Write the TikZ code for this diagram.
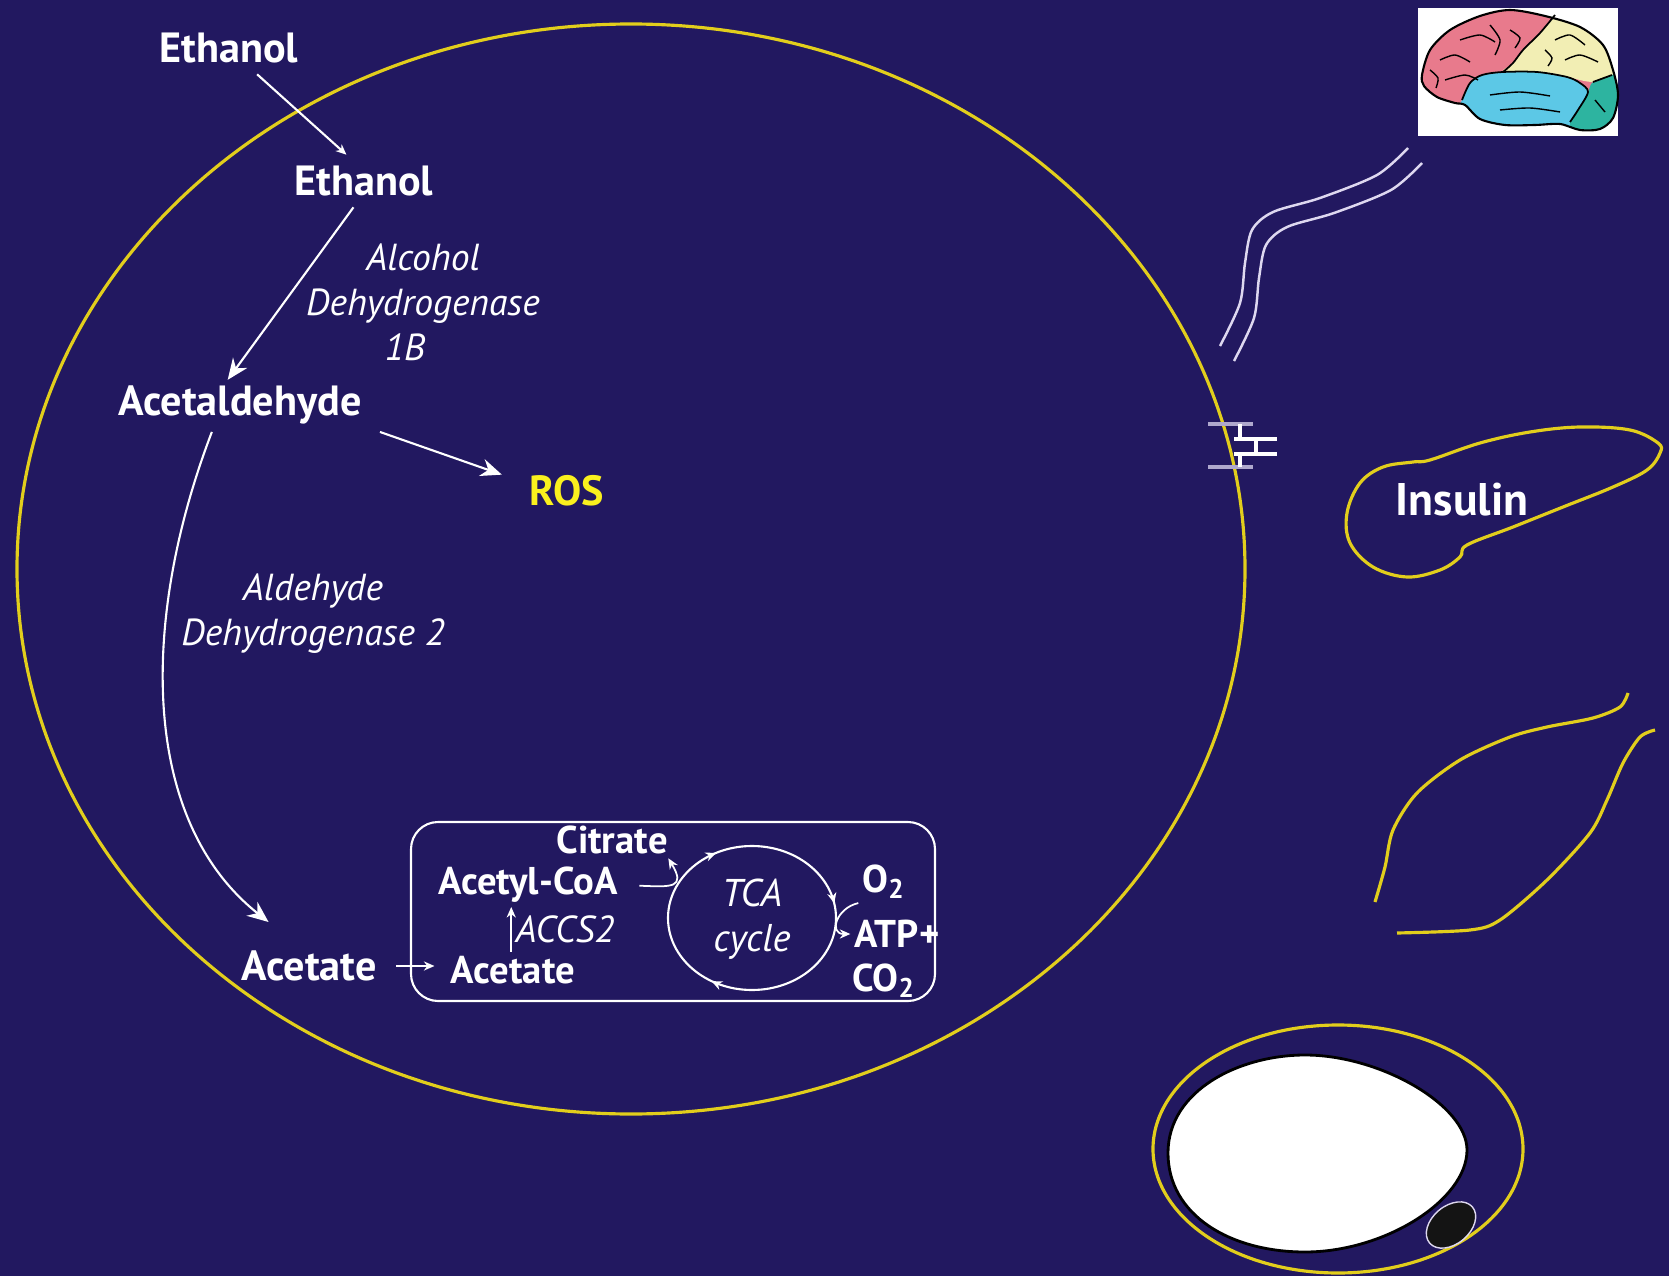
\documentclass[tikz,border=0pt]{standalone}
\usepackage{fontspec}
\setmainfont{PT Sans}
\usetikzlibrary{arrows.meta,decorations.markings}

\definecolor{navy}{RGB}{34,24,96}
\definecolor{membrane}{RGB}{226,206,28}
\definecolor{rosyellow}{RGB}{250,240,30}
\definecolor{nerve}{RGB}{222,216,240}
\definecolor{gatelight}{RGB}{175,168,205}
\definecolor{frontal}{RGB}{232,122,140}
\definecolor{parietal}{RGB}{242,238,180}
\definecolor{temporal}{RGB}{92,200,230}
\definecolor{occipital}{RGB}{45,180,160}

\tikzset{
  mol/.style={text=white, font=\bfseries\fontsize{12}{14}\selectfont, inner sep=3pt},
  small mol/.style={text=white, font=\bfseries\fontsize{11}{13}\selectfont, inner sep=1pt},
  enzyme/.style={text=white, font=\itshape\fontsize{10.7}{12.8}\selectfont, align=center, inner sep=1pt},
  flow/.style={white, line width=0.6pt, -{Stealth[length=6pt,width=5pt]}},
  thin flow/.style={white, line width=0.5pt, -{Stealth[length=3pt,width=2.6pt]}},
  organ/.style={membrane, line width=0.9pt},
  cycle marks/.style={postaction={decorate, decoration={markings,
    mark=at position 0.335 with {\arrow{Stealth[length=3pt,width=2.6pt]}},
    mark=at position 0.675 with {\arrow{Stealth[length=3pt,width=2.6pt]}},
    mark=at position 0.97 with {\arrow{Stealth[length=3pt,width=2.6pt]}}}}},
}

\begin{document}
\begin{tikzpicture}[x=0.01cm,y=-0.01cm]
\fill[navy] (0,0) rectangle (1669,1276);
\useasboundingbox (0,0) rectangle (1669,1276);

% the cell
\draw[organ] (631,569) ellipse [x radius=614, y radius=545];

\node[mol] (eth out) at (229,48) {Ethanol};
\node[mol] (eth in) at (364,181) {Ethanol};
\node[mol] (acald) at (240,405) {Acetaldehyde};
\node[mol, text=rosyellow] (ros) at (567,491) {ROS};
\node[mol] (ac out) at (309,966) {Acetate};
\node[enzyme] (adh) at (423,302) {Alcohol\\Dehydrogenase\\1B\hphantom{xx}};
\node[enzyme] (aldh) at (313,614) {Aldehyde\\Dehydrogenase 2};

\draw[thin flow, line width=0.6pt] ([xshift=8pt]eth out.south) -- ([xshift=-5pt]eth in.north);
\draw[flow] ([xshift=-3pt]eth in.south) -- ([xshift=-3.5pt,yshift=-1.5pt]acald.north);
\draw[flow, shorten >=5pt] ([xshift=2pt,yshift=1pt]acald.south east) -- ([yshift=3pt]ros.west);
\draw[flow] ([xshift=-8pt,yshift=1pt]acald.south) .. controls (140,620) and (140,820) .. ([xshift=-11.5pt,yshift=5pt]ac out.north);

% mitochondrion
\draw[white, line width=0.6pt, rounded corners=7.7pt] (411,822) rectangle (935,1001);
\node[small mol] (citrate) at (612,840) {Citrate};
\node[small mol] (acoa) at (528,885) {Acetyl-CoA};
\node[small mol] (ac in) at (513,970) {Acetate};
\node[small mol] (o2) at (884,882) {O\textsubscript{2}};
\node[small mol] (atp) at (897,934) {ATP+};
\node[small mol] (co2) at (884,981) {CO\textsubscript{2}};
\draw[white, line width=0.6pt, cycle marks] (752,918) ellipse [x radius=84, y radius=72];
\node[enzyme, font=\itshape\fontsize{11}{12.8}\selectfont] (tca) at (752,919) {TCA\\cycle};

\draw[thin flow, shorten <=2.4pt, shorten >=3.5pt] (ac out.east) -- (ac out.east -| ac in.west);
\draw[thin flow] ([xshift=-0.5pt]ac in.north) -- ([xshift=-0.5pt]ac in.north |- acoa.south)
  node[midway, right, enzyme] {ACCS2};
\draw[thin flow, shorten <=5pt] (acoa.east) .. controls +(50,2) and +(18,30) .. ([xshift=-1pt]citrate.south east);
\draw[thin flow] (o2.south west) .. controls +(-22,5) and +(-22,0) .. (atp.west);

% brain
\fill[white] (1418,8) rectangle (1618,136);
\begin{scope}
\clip plot[smooth cycle] coordinates {(1422,75) (1430,50) (1450,30) (1480,16) (1510,10) (1545,16) (1580,27) (1603,45) (1613,70) (1618,95) (1613,118) (1600,129) (1580,130) (1560,124) (1535,125) (1505,125) (1480,119) (1465,105) (1455,103) (1437,97) (1424,86)};
\fill[frontal] (1410,0) rectangle (1630,140);
\fill[parietal] (1630,0) -- (1555,0) -- plot[smooth] coordinates {(1555,15) (1540,33) (1523,50) (1513,63) (1503,72) (1537,72) (1567,77) (1593,82) (1630,78)} -- cycle;
\fill[temporal] (1440,140) -- plot[smooth] coordinates {(1462,100) (1470,83) (1482,75) (1503,72) (1537,72) (1567,77) (1580,83) (1588,92) (1578,110) (1570,122)} -- (1570,140) -- cycle;
\fill[occipital] plot[smooth] coordinates {(1570,122) (1578,110) (1588,92) (1593,82) (1612,75)} -- (1630,70) -- (1630,140) -- (1570,140) -- cycle;
\end{scope}
\draw[black, line width=0.6pt] plot[smooth cycle] coordinates {(1422,75) (1430,50) (1450,30) (1480,16) (1510,10) (1545,16) (1580,27) (1603,45) (1613,70) (1618,95) (1613,118) (1600,129) (1580,130) (1560,124) (1535,125) (1505,125) (1480,119) (1465,105) (1455,103) (1437,97) (1424,86)};
\draw[black, line width=0.5pt] plot[smooth] coordinates {(1555,15) (1540,33) (1523,50) (1513,63) (1503,72)};
\draw[black, line width=0.5pt] plot[smooth] coordinates {(1462,100) (1470,83) (1482,75) (1503,72) (1537,72) (1567,77) (1580,83) (1588,92) (1578,110) (1570,122)};
\draw[black, line width=0.5pt] plot[smooth] coordinates {(1593,82) (1612,75)};
\draw[black, line width=0.4pt] plot[smooth] coordinates {(1440,60) (1455,55) (1470,62)};
\draw[black, line width=0.4pt] plot[smooth] coordinates {(1460,40) (1480,35) (1495,42)};
\draw[black, line width=0.4pt] plot[smooth] coordinates {(1445,80) (1465,75) (1478,80)};
\draw[black, line width=0.4pt] plot[smooth] coordinates {(1490,25) (1500,40) (1495,55)};
\draw[black, line width=0.4pt] plot[smooth] coordinates {(1430,70) (1438,78) (1436,88)};
\draw[black, line width=0.4pt] plot[smooth] coordinates {(1510,30) (1520,38) (1515,48)};
\draw[black, line width=0.4pt] plot[smooth] coordinates {(1555,40) (1570,35) (1585,45)};
\draw[black, line width=0.4pt] plot[smooth] coordinates {(1565,60) (1580,55) (1598,62)};
\draw[black, line width=0.4pt] plot[smooth] coordinates {(1545,50) (1552,58) (1548,66)};
\draw[black, line width=0.4pt] plot[smooth] coordinates {(1490,95) (1520,92) (1550,96)};
\draw[black, line width=0.4pt] plot[smooth] coordinates {(1500,110) (1530,108) (1560,112)};
\draw[black, line width=0.4pt] plot[smooth] coordinates {(1595,100) (1605,112)};

% nerve to the brain
\draw[nerve, line width=0.7pt] plot[smooth] coordinates {(1408,148) (1377,175) (1320,198) (1273,212) (1252,230) (1245,263) (1240,303) (1220,346)};
\draw[nerve, line width=0.7pt, shift={(14,15)}] plot[smooth] coordinates {(1408,148) (1377,175) (1320,198) (1273,212) (1252,230) (1245,263) (1240,303) (1220,346)};

% gate in the membrane
\draw[gatelight, line width=0.9pt] (1208,424) -- (1253,424) (1208,467) -- (1253,467);
\draw[white, line width=0.9pt] (1234,439) -- (1277,439) (1234,454) -- (1277,454)
  (1240,424) -- (1240,439) (1256,439) -- (1256,454) (1240,454) -- (1240,467);

% pancreas
\draw[organ] plot[smooth cycle, tension=0.6] coordinates {(1430,460) (1480,443) (1530,432) (1580,427) (1630,430) (1658,443) (1660,453) (1647,470) (1613,487) (1563,507) (1513,527) (1467,545) (1460,557) (1440,570) (1407,577) (1373,567) (1350,543) (1347,513) (1360,483) (1383,467) (1413,462)};
\node[mol, font=\bfseries\fontsize{13}{15}\selectfont] (insulin) at (1462,500) {Insulin};

% muscle
\draw[organ] plot[smooth] coordinates {(1628,693) (1620,707) (1593,718) (1547,727) (1510,737) (1460,760) (1417,793) (1393,830) (1385,867) (1375,902)};
\draw[organ] plot[smooth] coordinates {(1655,730) (1640,737) (1623,763) (1607,800) (1590,833) (1547,880) (1500,920) (1470,930) (1397,933)};

% fat cell
\draw[organ] (1338,1149) ellipse [x radius=185, y radius=124];
\filldraw[fill=white, draw=black, line width=0.8pt] (1168,1153) .. controls (1168,1090) and (1240,1055) .. (1305,1055)
  .. controls (1380,1055) and (1467,1105) .. (1467,1150)
  .. controls (1467,1200) and (1385,1252) .. (1305,1252)
  .. controls (1230,1252) and (1168,1215) .. cycle;
\filldraw[fill=black!92, draw=nerve, line width=0.4pt, rotate around={40:(1451,1225)}] (1451,1225) ellipse [x radius=28, y radius=19];
\end{tikzpicture}
\end{document}
